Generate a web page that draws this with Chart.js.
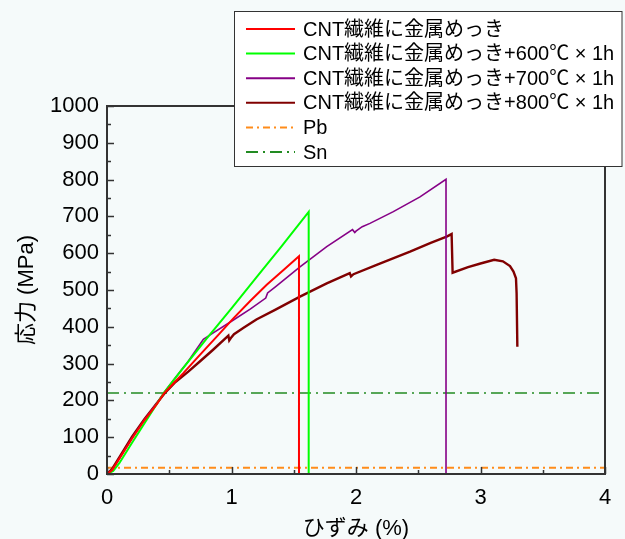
<!DOCTYPE html>
<html>
<head>
<meta charset="utf-8">
<script src="https://cdn.jsdelivr.net/npm/chart.js@4.4.0/dist/chart.umd.min.js"></script>
<style>
    html, body { margin: 0; padding: 0; background: #f5fafa; }
    #wrap { width: 625px; height: 539px; }
</style>
</head>
<body>
<div id="wrap"><canvas id="stressChart" width="625" height="539"></canvas></div>
<script>
// series names
var seriesLabels = [
    'CNT繊維に金属めっき',
    'CNT繊維に金属めっき+600℃ × 1h',
    'CNT繊維に金属めっき+700℃ × 1h',
    'CNT繊維に金属めっき+800℃ × 1h',
    'Pb',
    'Sn'
];

// strain (%) / stress (MPa)
var platedStrain = [0, 0.04, 0.1, 0.2, 0.3, 0.4, 0.46, 0.55, 0.613, 0.75, 0.9, 1.015, 1.15, 1.283, 1.42, 1.542, 1.542];
var platedStress = [0, 10, 42, 96, 146, 190, 220, 252, 274, 325, 380, 423, 470, 514, 555, 592, 0];

var s600Strain = [0, 0.05, 0.1, 0.2, 0.3, 0.4, 0.46, 0.6, 0.8, 1.0, 1.2, 1.4, 1.62, 1.62];
var s600Stress = [0, 8, 30, 84, 137, 190, 222, 283, 368, 450, 534, 618, 712, 0];

var s700Strain = [0, 0.04, 0.1, 0.2, 0.3, 0.4, 0.46, 0.55, 0.65, 0.774, 0.85, 1.0, 1.15, 1.275, 1.29, 1.35, 1.55, 1.765, 1.972, 1.99, 2.0, 2.05, 2.112, 2.3, 2.514, 2.723, 2.723];
var s700Stress = [0, 10, 42, 97, 147, 192, 222, 262, 305, 366, 383, 415, 448, 478, 492, 508, 563, 618, 664, 656, 660, 672, 681, 713, 753, 801, 0];

var s800Strain = [0, 0.04, 0.1, 0.2, 0.3, 0.4, 0.46, 0.55, 0.653, 0.75, 0.85, 0.975, 0.982, 1.0, 1.02, 1.1, 1.2, 1.35, 1.55, 1.765, 1.95, 1.96, 1.98, 2.166, 2.434, 2.6, 2.728, 2.768, 2.776, 2.9, 3.0, 3.11, 3.18, 3.237, 3.265, 3.285, 3.29, 3.296];
var s800Stress = [0, 13, 46, 101, 149, 192, 218, 250, 278, 307, 337, 376, 363, 372, 380, 398, 420, 446, 482, 518, 546, 537, 543, 568, 604, 628, 645, 652, 547, 562, 572, 582, 578, 565, 550, 532, 491, 346];

var pbLevel = 17;
var snLevel = 220;
var refStrain = [0, 4];

function pts(xs, ys) {
    return xs.map(function(x, i) { return { x: x, y: ys[i] }; });
}

var dashStyles = [[], [], [], [], [7, 4, 2, 4], [12, 5, 2, 5]];
var fontStack = "'Liberation Sans', 'Noto Sans CJK JP', sans-serif";

var frameAndLegend = {
    id: 'frameAndLegend',
    afterDraw: function(chart) {
        var ctx = chart.ctx;
        var a = chart.chartArea;
        var xs = chart.scales.x, ys = chart.scales.y;
        ctx.save();
        // inward ticks
        ctx.strokeStyle = '#333';
        ctx.lineWidth = 1.5;
        ctx.beginPath();
        for (var v = 0; v <= 1000; v += 50) {
            var py = Math.round(ys.getPixelForValue(v)) + 0.5;
            ctx.moveTo(a.left, py);
            ctx.lineTo(a.left + (v % 100 === 0 ? 7 : 4), py);
        }
        for (var u = 0; u <= 4; u += 0.5) {
            var px = Math.round(xs.getPixelForValue(u)) + 0.5;
            ctx.moveTo(px, a.bottom);
            ctx.lineTo(px, a.bottom - (u % 1 === 0 ? 7 : 4));
        }
        ctx.stroke();
        // frame
        ctx.lineWidth = 2;
        ctx.strokeRect(a.left, a.top, a.right - a.left, a.bottom - a.top);

        // legend
        ctx.fillStyle = '#ffffff';
        ctx.fillRect(234.5, 11.5, 387.5, 155);
        ctx.lineWidth = 1;
        ctx.strokeStyle = '#333';
        ctx.strokeRect(234.5, 11.5, 387.5, 155);
        ctx.font = '20px ' + fontStack;
        ctx.textBaseline = 'middle';
        ctx.textAlign = 'left';
        chart.data.datasets.forEach(function(ds, i) {
            var y = 29 + i * 24.6;
            ctx.strokeStyle = ds.borderColor;
            ctx.lineWidth = 2;
            ctx.setLineDash(ds.borderDash || []);
            ctx.beginPath();
            ctx.moveTo(246, y);
            ctx.lineTo(295, y);
            ctx.stroke();
            ctx.setLineDash([]);
            ctx.fillStyle = '#000';
            ctx.fillText(ds.label, 303, y + 1);
        });
        ctx.restore();
    }
};

Chart.defaults.font.family = fontStack;
Chart.defaults.color = '#000';

new Chart(document.getElementById('stressChart'), {
    type: 'scatter',
    data: {
        datasets: [
            { label: seriesLabels[0], data: pts(platedStrain, platedStress), borderColor: '#ff0000', borderWidth: 2 },
            { label: seriesLabels[1], data: pts(s600Strain, s600Stress), borderColor: '#00ff00', borderWidth: 2 },
            { label: seriesLabels[2], data: pts(s700Strain, s700Stress), borderColor: '#860086', borderWidth: 1.6 },
            { label: seriesLabels[3], data: pts(s800Strain, s800Stress), borderColor: '#800000', borderWidth: 2.4 },
            { label: seriesLabels[4], data: pts(refStrain, [pbLevel, pbLevel]), borderColor: '#ff8c1a', borderWidth: 1.8, borderDash: dashStyles[4] },
            { label: seriesLabels[5], data: pts(refStrain, [snLevel, snLevel]), borderColor: '#228b22', borderWidth: 1.6, borderDash: dashStyles[5] }
        ].map(function(ds) {
            ds.showLine = true;
            ds.pointRadius = 0;
            ds.tension = 0;
            return ds;
        })
    },
    options: {
        responsive: false,
        animation: false,
        events: [],
        layout: { padding: { top: 106, right: 20, left: 0, bottom: 0 } },
        plugins: { legend: { display: false }, tooltip: { enabled: false } },
        scales: {
            x: {
                type: 'linear', min: 0, max: 4,
                grid: { display: false },
                border: { display: false },
                ticks: { stepSize: 1, padding: 3, font: { size: 22 }, color: '#000',
                         callback: function(v) { return String(v); } },
                title: { display: true, text: 'ひずみ (%)', font: { size: 22 }, color: '#000', padding: { top: 0, bottom: -3 } },
                afterFit: function(s) { s.height = 65; }
            },
            y: {
                type: 'linear', min: 0, max: 1000,
                grid: { display: false },
                border: { display: false },
                ticks: { stepSize: 100, padding: 0, font: { size: 22 }, color: '#000',
                         callback: function(v) { return String(v); } },
                title: { display: true, text: '応力 (MPa)', font: { size: 22 }, color: '#000', padding: { top: 14, bottom: 0 } },
                afterFit: function(s) { s.width = 107; }
            }
        }
    },
    plugins: [frameAndLegend]
});
</script>
</body>
</html>
